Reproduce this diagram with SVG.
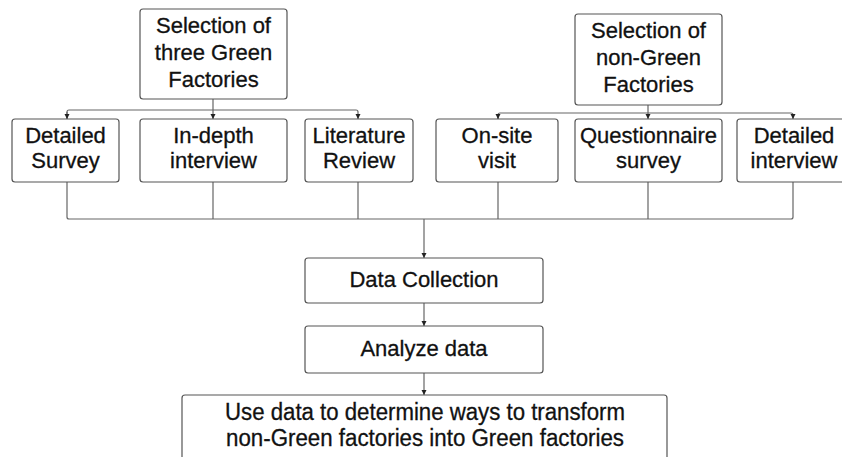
<svg xmlns="http://www.w3.org/2000/svg" width="842" height="457" viewBox="0 0 842 457">
<defs>
<style>
.box{fill:#fff;stroke:#555;stroke-width:1.2}
.t{font-family:"Liberation Sans",Arial,sans-serif;font-size:22px;fill:#111;stroke:#111;stroke-width:0.3;text-anchor:middle}
.big{font-size:23.5px}
.ln{fill:none;stroke:#666;stroke-width:1.2}
</style>
<marker id="ah" viewBox="0 0 10 10" refX="10" refY="5" markerWidth="5" markerHeight="6" orient="auto" markerUnits="userSpaceOnUse">
<path d="M0,0 L10,5 L0,10 z" fill="#222"/>
</marker>
</defs>
<rect width="842" height="457" fill="#fff"/>
<g id="connectors">
<path class="ln" d="M213,99 V110 M67,119 V112 Q67,110 69,110 H356 Q358,110 358,112 V119" marker-end="url(#ah)"/>
<path class="ln" d="M67,112 V119" marker-end="url(#ah)"/>
<path class="ln" d="M213,110 V119" marker-end="url(#ah)"/>
<path class="ln" d="M648,105 V113 M498,119 V115 Q498,113 500,113 H791 Q793,113 793,115 V119" marker-end="url(#ah)"/>
<path class="ln" d="M498,115 V119" marker-end="url(#ah)"/>
<path class="ln" d="M648,113 V119" marker-end="url(#ah)"/>
<path class="ln" d="M67,182 V217 Q67,219 69,219 H791 Q793,219 793,217 V182"/>
<path class="ln" d="M213,182 V219 M358,182 V219 M498,182 V219 M648,182 V219"/>
<path class="ln" d="M424,219 V258" marker-end="url(#ah)"/>
<path class="ln" d="M424,303 V326" marker-end="url(#ah)"/>
<path class="ln" d="M424,373 V395" marker-end="url(#ah)"/>
</g>
<g id="green-selection">
<rect class="box" x="140" y="9" width="147" height="90" rx="3"/>
<text class="t" x="213.5" y="33">Selection of</text>
<text class="t" x="213.5" y="60">three Green</text>
<text class="t" x="213.5" y="87">Factories</text>
</g>
<g id="nongreen-selection">
<rect class="box" x="575" y="14" width="147" height="91" rx="3"/>
<text class="t" x="648.5" y="38">Selection of</text>
<text class="t" x="648.5" y="65">non-Green</text>
<text class="t" x="648.5" y="92">Factories</text>
</g>
<g id="detailed-survey">
<rect class="box" x="12" y="119" width="107" height="63" rx="3"/>
<text class="t" x="65.5" y="143">Detailed</text>
<text class="t" x="65.5" y="168">Survey</text>
</g>
<g id="in-depth-interview">
<rect class="box" x="140" y="119" width="147" height="63" rx="3"/>
<text class="t" x="213.5" y="143">In-depth</text>
<text class="t" x="213.5" y="168">interview</text>
</g>
<g id="literature-review">
<rect class="box" x="305" y="119" width="108" height="63" rx="3"/>
<text class="t" x="359" y="143">Literature</text>
<text class="t" x="359" y="168">Review</text>
</g>
<g id="on-site-visit">
<rect class="box" x="436" y="119" width="122" height="63" rx="3"/>
<text class="t" x="497" y="143">On-site</text>
<text class="t" x="497" y="168">visit</text>
</g>
<g id="questionnaire-survey">
<rect class="box" x="575" y="119" width="147" height="63" rx="3"/>
<text class="t" x="648.5" y="143">Questionnaire</text>
<text class="t" x="648.5" y="168">survey</text>
</g>
<g id="detailed-interview">
<rect class="box" x="737" y="119" width="114" height="63" rx="3"/>
<text class="t" x="794" y="143">Detailed</text>
<text class="t" x="794" y="168">interview</text>
</g>
<g id="data-collection">
<rect class="box" x="305" y="258" width="238" height="45" rx="3"/>
<text class="t" x="424" y="287">Data Collection</text>
</g>
<g id="analyze-data">
<rect class="box" x="305" y="326" width="238" height="47" rx="3"/>
<text class="t" x="424" y="356">Analyze data</text>
</g>
<g id="use-data">
<rect class="box" x="182" y="395" width="485" height="70" rx="3"/>
<text class="t big" x="425" y="420" textLength="400" lengthAdjust="spacingAndGlyphs">Use data to determine ways to transform</text>
<text class="t big" x="425" y="446" textLength="398" lengthAdjust="spacingAndGlyphs">non-Green factories into Green factories</text>
</g>
</svg>
